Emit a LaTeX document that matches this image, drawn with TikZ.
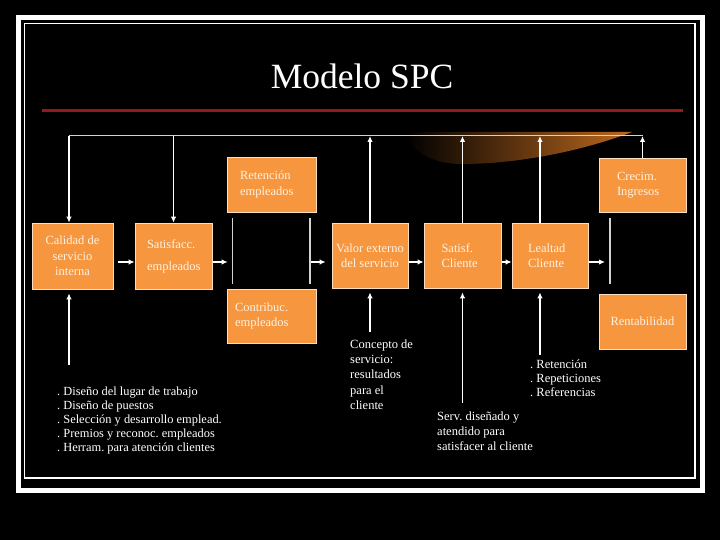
\documentclass[tikz,border=0pt]{standalone}
\usepackage{fontspec}
\setmainfont{Liberation Serif}
\usepackage{xcolor}
\usepackage{tikz}
\usetikzlibrary{arrows.meta}

\definecolor{naranja}{RGB}{246,150,62}
\definecolor{borde}{RGB}{255,222,190}
\definecolor{textocaja}{RGB}{255,242,228}
\definecolor{rojo}{RGB}{150,24,24}
\definecolor{gris}{RGB}{210,210,210}
\definecolor{cobre}{RGB}{190,105,30}

\tikzset{
  caja/.style={draw=borde, line width=0.7pt, fill=naranja, text=textocaja, inner sep=0pt,
    font=\fontsize{12.5}{15.5}\selectfont},
  flecha/.style={draw=white, line width=1.6pt, -{Latex[length=6pt,width=5.5pt]}},
  barra/.style={draw=gris, line width=1.2pt},
  nota/.style={text=white, inner sep=0pt, align=left, anchor=north west},
}

\begin{document}
\frenchspacing
\begin{tikzpicture}[x=1pt,y=-1pt]
  \fill[black] (0,0) rectangle (720,540);
  \draw[white, line width=5pt] (18.5,17.5) rectangle (702.5,490.5);
  \draw[white, line width=1.2pt] (24.3,23.3) rectangle (695,478);
  \node[text=white, font=\fontsize{35.5}{40}\selectfont] (titulo) at (362,76.5) {Modelo SPC};
  \draw[rojo, line width=2.5pt] (42,110.5) -- (683,110.5);
  % adorno
  \shade[left color=black, right color=cobre]
    (405,132) -- (632,132) .. controls (585,150) and (520,164) .. (462,164)
    .. controls (430,164) and (410,150) .. cycle;

  % cajas
  \node[caja, minimum width=81, minimum height=66, align=center] (calidad) at (72.5,256)
    {Calidad de\\servicio\\interna};
  \node[caja, minimum width=77, minimum height=66, text width=53, align=left] (satisfacc) at (173.5,256)
    {Satisfacc.\\[6.5pt]empleados};
  \node[caja, minimum width=89, minimum height=55, text width=63, align=left] (retencion) at (271.5,184.5)
    {Retención\\empleados};
  \node[caja, minimum width=89, minimum height=54, text width=73, align=left] (contribuc) at (271.5,316)
    {Contribuc.\\empleados};
  \node[caja, minimum width=76, minimum height=65, align=center] (valor) at (370,255.5)
    {Valor externo\\del servicio};
  \node[caja, minimum width=77, minimum height=65, text width=42, align=left] (satcli) at (462.5,255.5)
    {Satisf.\\Cliente};
  \node[caja, minimum width=76, minimum height=65, text width=44, align=left] (lealtad) at (550,255.5)
    {Lealtad\\Cliente};
  \node[caja, minimum width=87, minimum height=54, text width=51, align=left] (crecim) at (642.5,185)
    {Crecim.\\Ingresos};
  \node[caja, minimum width=87, minimum height=55, align=center] (rentab) at (642.5,321.5)
    {Rentabilidad};

  % barras
  \foreach \b/\x in {barA/232.7, barB/310, barC/610} {
    \coordinate (\b) at (\x,218);
    \draw[barra] (\b) -- ++(0,66);
  }

  % flujo horizontal
  \coordinate (flujo) at (0,262);
  \draw[flecha, shorten <=5pt] (calidad.east |- flujo) -- (satisfacc.west |- flujo);
  \draw[flecha, shorten <=1pt, shorten >=5pt] (satisfacc.east |- flujo) -- (barA |- flujo);
  \draw[flecha, shorten <=1pt, shorten >=6pt] (barB |- flujo) -- (valor.west |- flujo);
  \draw[flecha, shorten <=1pt] (valor.east |- flujo) -- (satcli.west |- flujo);
  \draw[flecha, shorten <=1pt] (satcli.east |- flujo) -- (lealtad.west |- flujo);
  \draw[flecha, shorten <=1pt, shorten >=5pt] (lealtad.east |- flujo) -- (barC |- flujo);

  % retroalimentacion
  \coordinate (fb) at (0,136);
  \draw[gris, line width=1pt] (calidad.96 |- fb) -- (crecim.north |- fb);
  \draw[flecha] (calidad.96 |- fb) -- (calidad.96);
  \draw[flecha] (satisfacc.north |- fb) -- (satisfacc.north);
  \foreach \n in {valor,satcli,crecim} \draw[flecha] (\n.north) -- (\n.north |- fb);
  \draw[flecha] (lealtad.107) -- (lealtad.107 |- fb);

  % entradas desde abajo
  \coordinate (piecal) at (0,365);
  \coordinate (pieval) at (0,332);
  \coordinate (piesat) at (0,403);
  \coordinate (pieleal) at (0,355);
  \draw[flecha, shorten >=4pt] (calidad.264 |- piecal) -- (calidad.264);
  \draw[flecha, shorten >=4pt] (valor.south |- pieval) -- (valor.south);
  \draw[flecha, shorten >=4pt] (satcli.south |- piesat) -- (satcli.south);
  \draw[flecha, shorten >=4pt] (lealtad.253 |- pieleal) -- (lealtad.253);

  % notas
  \node[nota, font=\fontsize{12.4}{13.8}\selectfont] (factores) at (57,387)
    {. Diseño del lugar de trabajo\\. Diseño de puestos\\. Selección y desarrollo emplead.\\
     . Premios y reconoc. empleados\\. Herram. para atención clientes};
  \node[nota, font=\fontsize{12.5}{15.3}\selectfont] (concepto) at (350,339.5)
    {Concepto de\\servicio:\\resultados\\para el\\cliente};
  \node[nota, font=\fontsize{12.5}{15}\selectfont] (servdis) at (437,411.5)
    {Serv. diseñado y\\atendido para\\satisfacer al cliente};
  \node[nota, font=\fontsize{12.5}{14}\selectfont] (lealtades) at (530,359.5)
    {. Retención\\. Repeticiones\\. Referencias};
\end{tikzpicture}
\end{document}
